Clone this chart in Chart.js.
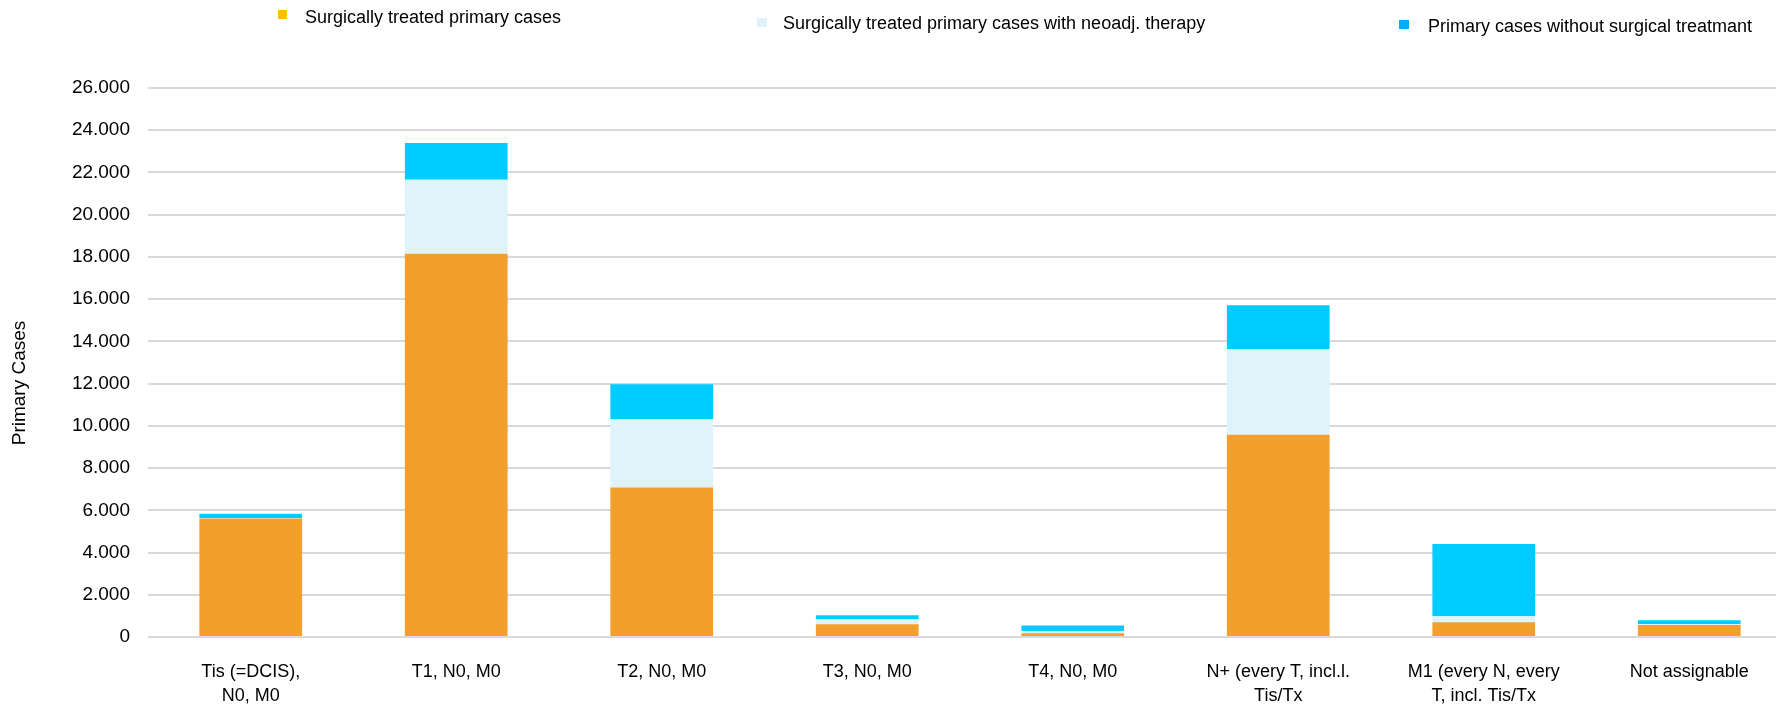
<!DOCTYPE html>
<html>
<head>
<meta charset="utf-8">
<script src="https://cdn.jsdelivr.net/npm/chart.js@4"></script>
<style>
  html, body { margin: 0; padding: 0; background: #fff; overflow: hidden; }
  #wrap { width: 1800px; height: 708px; position: relative; }
</style>
</head>
<body>
<div id="wrap"><canvas id="chart"></canvas></div>
<script>
// categories (x axis)
const categories = [
  ['Tis (=DCIS),', 'N0, M0'],
  ['T1, N0, M0'],
  ['T2, N0, M0'],
  ['T3, N0, M0'],
  ['T4, N0, M0'],
  ['N+ (every T, incl.l.', 'Tis/Tx'],
  ['M1 (every N, every', 'T, incl. Tis/Tx'],
  ['Not assignable']
];

// series values
const surgical = [5610, 18150, 7080, 600, 180, 9580, 700, 570];
const neoadjuvant = [20, 3500, 3250, 240, 100, 4060, 280, 50];
const withoutSurgery = [210, 1750, 1640, 190, 270, 2070, 3420, 175];

const seriesNames = [
  'Surgically treated primary cases',
  'Surgically treated primary cases with neoadj. therapy',
  'Primary cases without surgical treatmant'
];

// y axis ticks
const yMax = 26000;
const yStep = 2000;

const FONT = '"Liberation Sans", Arial, sans-serif';

// legend + axis title drawn at fixed spots like the original
const legendPos = [
  { box: [278, 10, 9, 9], color: '#FFC000', tx: 305, ty: 18 },
  { box: [757, 18, 10, 9], color: '#DEF2F9', tx: 783, ty: 24 },
  { box: [1399, 20, 10, 9], color: '#00B0F0', tx: 1428, ty: 27 }
];

const extras = {
  id: 'extras',
  afterDraw(chart) {
    const ctx = chart.ctx;
    ctx.save();
    ctx.font = '18px ' + FONT;
    ctx.textBaseline = 'middle';
    ctx.textAlign = 'left';
    chart.data.datasets.forEach((ds, i) => {
      const p = legendPos[i];
      ctx.fillStyle = p.color;
      ctx.fillRect(p.box[0], p.box[1], p.box[2], p.box[3]);
      ctx.fillStyle = '#000';
      ctx.fillText(ds.label, p.tx, p.ty);
    });
    // y axis title
    ctx.font = '19px ' + FONT;
    ctx.translate(20, 383);
    ctx.rotate(-Math.PI / 2);
    ctx.textAlign = 'center';
    ctx.fillText('Primary Cases', 0, 0);
    ctx.restore();
  }
};

new Chart(document.getElementById('chart').getContext('2d'), {
  type: 'bar',
  data: {
    labels: categories,
    datasets: [
      { label: seriesNames[0], data: surgical, backgroundColor: '#F29F2D' },
      { label: seriesNames[1], data: neoadjuvant, backgroundColor: '#DFF3FA' },
      { label: seriesNames[2], data: withoutSurgery, backgroundColor: '#00CCFF' }
    ]
  },
  options: {
    responsive: true,
    maintainAspectRatio: false,
    animation: false,
    layout: { padding: { top: 88, right: 8, left: 0, bottom: 0 } },
    datasets: { bar: { barPercentage: 0.5, categoryPercentage: 1 } },
    plugins: {
      legend: { display: false },
      tooltip: { enabled: false }
    },
    scales: {
      x: {
        stacked: true,
        grid: { display: false },
        border: { display: false },
        ticks: {
          color: '#000',
          font: { family: FONT, size: 18, lineHeight: 1.33 },
          maxRotation: 0,
          autoSkip: false,
          padding: 15
        },
        afterFit(scale) { scale.height = 71; }
      },
      y: {
        stacked: true,
        min: 0,
        max: yMax,
        border: { display: false },
        grid: { color: '#D9D9D9', lineWidth: 2, drawTicks: false },
        ticks: {
          stepSize: yStep,
          color: '#000',
          font: { family: FONT, size: 19 },
          padding: 18,
          callback: v => String(v).replace(/\B(?=(\d{3})+(?!\d))/g, '.')
        },
        afterFit(scale) { scale.width = 148; }
      }
    }
  },
  plugins: [extras]
});
</script>
</body>
</html>
